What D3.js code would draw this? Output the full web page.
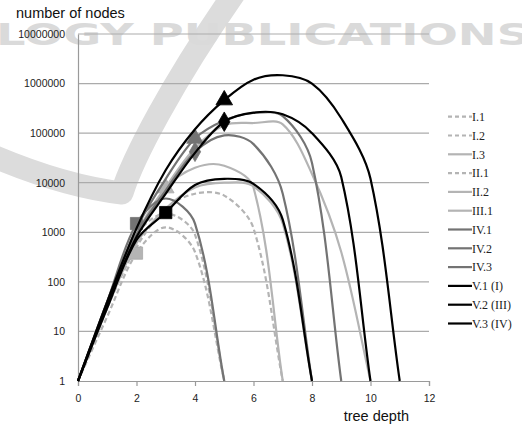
<!DOCTYPE html>
<html>
<head>
<meta charset="utf-8">
<script src="https://cdn.jsdelivr.net/npm/d3@7"></script>
<style>
  body { margin: 0; background: #fff; }
  svg { display: block; }
  .tick-label { font-family: "Liberation Sans", Arial, sans-serif; font-size: 10.5px; fill: #222; }
  .axis-title { font-family: "Liberation Sans", Arial, sans-serif; font-size: 14.5px; fill: #111; }
  .legend-label { font-family: "Liberation Serif", "Times New Roman", serif; font-size: 12px; fill: #222; }
</style>
</head>
<body>
<svg id="chart" width="522" height="428"></svg>
<script>
// values (number of nodes per tree depth, index = depth)
var seriesNames = ['I.1', 'I.2', 'I.3', 'II.1', 'II.2', 'III.1', 'IV.1', 'IV.2', 'IV.3', 'V.1 (I)', 'V.2 (III)', 'V.3 (IV)'];

var valuesI1   = [1, 30, 500, 3000, 6000, 5500, 1200, 1];
var valuesI2   = [1, 20, 380, 1260, 400, 1];
var valuesI3   = [1, 35, 900, 7800, 20000, 22000, 8000, 1];
var valuesII1  = [1, 30, 900, 2400, 900, 1];
var valuesII2  = [1, 30, 600, 3000, 8000, 10000, 8500, 1500, 1];
var valuesIII1 = [1, 35, 800, 8000, 50000, 145000, 160000, 150000, 15000, 400, 1];
var valuesIV1  = [1, 35, 900, 7000, 42000, 90000, 60000, 6000, 1];
var valuesIV2  = [1, 40, 1500, 4800, 1500, 1];
var valuesIV3  = [1, 40, 1200, 12000, 78000, 180000, 255000, 220000, 25000, 1];
var valuesV1   = [1, 35, 800, 6000, 40000, 170000, 260000, 240000, 100000, 13000, 1];
var valuesV2   = [1, 30, 700, 2500, 9000, 12000, 9500, 1800, 1];
var valuesV3   = [1, 40, 1200, 18000, 120000, 465000, 1200000, 1470000, 1000000, 200000, 12000, 1];

// depth at which a marker is drawn (null = none visible)
var markerDepths = [null, 2, 3, null, null, null, 4, 2, 4, 5, 3, 5];

var xTicks = [0, 2, 4, 6, 8, 10, 12];
var yTicks = [1, 10, 100, 1000, 10000, 100000, 1000000, 10000000];

var allValues = [valuesI1, valuesI2, valuesI3, valuesII1, valuesII2, valuesIII1,
                 valuesIV1, valuesIV2, valuesIV3, valuesV1, valuesV2, valuesV3];

var lightGray = '#b4b4b4',
    darkGray = '#737373',
    black = '#000';

function styleFor(name) {
    var group = name.split('.')[0],
        dashed = (name === 'I.1' || name === 'I.2' || name === 'II.1'),
        color = (group === 'IV') ? darkGray : (group === 'V') ? black : lightGray;
    return { color: color, dashed: dashed };
}

function markerType(name) {
    var sub = name.split('.')[1].charAt(0);
    return sub === '1' ? d3.symbolDiamond : sub === '2' ? d3.symbolSquare : d3.symbolTriangle;
}

// spreadsheet-style smoothing: bezier arms scaled by neighbouring chord lengths
function smoothPath(pts) {
    var p = d3.path(),
        dist = function(a, b) { return Math.hypot(b[0] - a[0], b[1] - a[1]); };
    p.moveTo(pts[0][0], pts[0][1]);
    for (var i = 0; i < pts.length - 1; i++) {
        var p0 = pts[Math.max(i - 1, 0)],
            p1 = pts[i],
            p2 = pts[i + 1],
            p3 = pts[Math.min(i + 2, pts.length - 1)],
            d01 = dist(p0, p1),
            d12 = dist(p1, p2),
            d23 = dist(p2, p3),
            f = d12 / (d01 + d12) / 3,
            g = d12 / (d12 + d23) / 3;
        p.bezierCurveTo(
            p1[0] + f * (p2[0] - p0[0]), p1[1] + f * (p2[1] - p0[1]),
            p2[0] - g * (p3[0] - p1[0]), p2[1] - g * (p3[1] - p1[1]),
            p2[0], p2[1]);
    }
    return p.toString();
}

var margin = { top: 34, right: 93, bottom: 47, left: 78 },
    svg = d3.select('#chart'),
    width = 522 - margin.left - margin.right,
    height = 428 - margin.top - margin.bottom;

var x = d3.scaleLinear().domain([0, 12]).range([margin.left, margin.left + width]);
var y = d3.scaleLog().domain([1, 10000000]).range([margin.top + height, margin.top]);

// faint watermark from the scanned page
var wm = svg.append('g').attr('class', 'watermark');
wm.append('path')
    .attr('d', 'M -12,154 Q 62,186 122,193 C 132,160 172,82 238,-12')
    .attr('fill', 'none')
    .attr('stroke', '#dcdcdc')
    .attr('stroke-width', 23)
    .attr('stroke-linejoin', 'round');
wm.append('text')
    .attr('x', -4)
    .attr('y', 45)
    .attr('textLength', 534)
    .attr('lengthAdjust', 'spacingAndGlyphs')
    .style('font-family', '"DejaVu Sans", sans-serif')
    .style('font-weight', 'bold')
    .style('font-size', '30px')
    .style('fill', '#dadada')
    .text('LOGY PUBLICATIONS');

// gridlines
svg.append('g')
    .selectAll('line')
    .data(yTicks.slice(1))
    .enter().append('line')
    .attr('x1', x(0))
    .attr('x2', x(12))
    .attr('y1', function(d) { return y(d); })
    .attr('y2', function(d) { return y(d); })
    .attr('stroke', '#ababab')
    .attr('stroke-width', 1.2);

// axes
var xAxis = d3.axisBottom(x).tickValues(xTicks).tickSize(5).tickPadding(9).tickFormat(d3.format('d'));
var yAxis = d3.axisLeft(y).tickValues(yTicks).tickSize(0).tickPadding(13).tickFormat(d3.format('d'));

var gx = svg.append('g')
    .attr('transform', 'translate(0,' + y(1) + ')')
    .call(xAxis);
var gy = svg.append('g')
    .attr('transform', 'translate(' + x(0) + ',0)')
    .call(yAxis);

[gx, gy].forEach(function(g) {
    g.select('.domain').attr('stroke', '#9a9a9a').attr('stroke-width', 1.2);
    g.selectAll('.tick line').attr('stroke', '#9a9a9a').attr('stroke-width', 1.2);
    g.selectAll('.tick text').attr('class', 'tick-label').attr('fill', null);
});

svg.append('text')
    .attr('class', 'axis-title')
    .attr('x', 16)
    .attr('y', 18)
    .text('number of nodes');

svg.append('text')
    .attr('class', 'axis-title')
    .attr('x', 409)
    .attr('y', 421)
    .attr('text-anchor', 'end')
    .text('tree depth');

// series
var gSeries = svg.append('g').attr('class', 'series');

allValues.forEach(function(vals, i) {
    var name = seriesNames[i],
        s = styleFor(name),
        pts = vals.map(function(v, k) { return [x(k), y(v)]; });
    gSeries.append('path')
        .attr('d', smoothPath(pts))
        .attr('fill', 'none')
        .attr('stroke', s.color)
        .attr('stroke-width', 2.2)
        .attr('stroke-dasharray', s.dashed ? '5,3' : null);

    if (markerDepths[i] !== null) {
        var dpt = markerDepths[i],
            type = markerType(name),
            size = type === d3.symbolSquare ? 150 : type === d3.symbolTriangle ? 120 : 110;
        gSeries.append('path')
            .attr('d', d3.symbol().type(type).size(size))
            .attr('transform', 'translate(' + x(dpt) + ',' + y(vals[dpt]) + ')')
            .attr('fill', s.color)
            .attr('stroke', s.color === lightGray ? '#a8a8a8' : s.color)
            .attr('stroke-width', 0.8);
    }
});

// legend
var legend = svg.append('g').attr('class', 'legend');
var rows = legend.selectAll('g')
    .data(seriesNames)
    .enter().append('g')
    .attr('transform', function(d, i) { return 'translate(448,' + (116.7 + i * 18.8) + ')'; });

rows.append('line')
    .attr('x1', 0)
    .attr('x2', 24)
    .attr('stroke', function(d) { return styleFor(d).color; })
    .attr('stroke-width', 2.2)
    .attr('stroke-dasharray', function(d) { return styleFor(d).dashed ? '4,3' : null; });

rows.append('text')
    .attr('class', 'legend-label')
    .attr('x', 24)
    .attr('dy', '0.35em')
    .text(function(d) { return d; });
</script>
</body>
</html>
